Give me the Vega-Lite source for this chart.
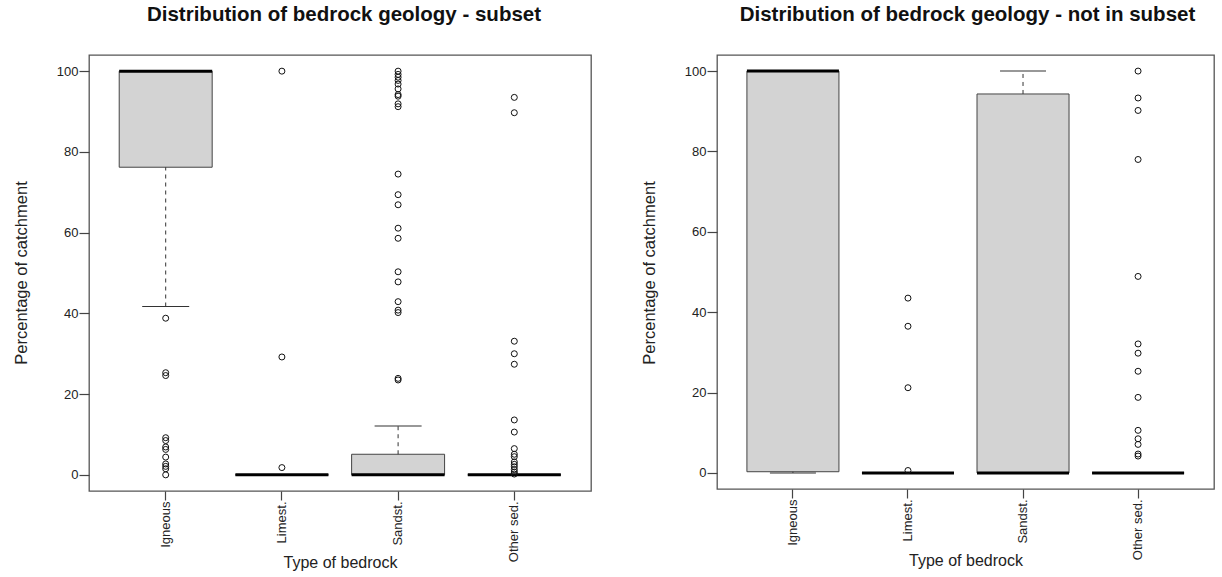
{
  "$schema": "https://vega.github.io/schema/vega-lite/v6.json",
  "padding": {"left": 12, "top": 3, "right": 0, "bottom": 0},
  "background": "white",
  "bounds": "flush",
  "spacing": 126,
  "datasets": {
    "summary": [
      {"panel": "subset", "type": "Igneous", "lo": 41.7, "q1": 76.2, "med": 100, "q3": 100, "hi": 100},
      {"panel": "subset", "type": "Limest.", "lo": 0, "q1": 0, "med": 0, "q3": 0, "hi": 0},
      {"panel": "subset", "type": "Sandst.", "lo": 0, "q1": 0, "med": 0, "q3": 5.1, "hi": 12.1},
      {"panel": "subset", "type": "Other sed.", "lo": 0, "q1": 0, "med": 0, "q3": 0, "hi": 0},
      {"panel": "not", "type": "Igneous", "lo": 0, "q1": 0.3, "med": 100, "q3": 100, "hi": 100},
      {"panel": "not", "type": "Limest.", "lo": 0, "q1": 0, "med": 0, "q3": 0, "hi": 0},
      {"panel": "not", "type": "Sandst.", "lo": 0, "q1": 0, "med": 0, "q3": 94.3, "hi": 100},
      {"panel": "not", "type": "Other sed.", "lo": 0, "q1": 0, "med": 0, "q3": 0, "hi": 0}
    ],
    "outliers": [
      {"panel": "subset", "type": "Igneous", "value": 38.8},
      {"panel": "subset", "type": "Igneous", "value": 25.3},
      {"panel": "subset", "type": "Igneous", "value": 24.6},
      {"panel": "subset", "type": "Igneous", "value": 9.2},
      {"panel": "subset", "type": "Igneous", "value": 8.5},
      {"panel": "subset", "type": "Igneous", "value": 6.9},
      {"panel": "subset", "type": "Igneous", "value": 6.3},
      {"panel": "subset", "type": "Igneous", "value": 4.4},
      {"panel": "subset", "type": "Igneous", "value": 2.7},
      {"panel": "subset", "type": "Igneous", "value": 2.1},
      {"panel": "subset", "type": "Igneous", "value": 1.5},
      {"panel": "subset", "type": "Igneous", "value": 0.0},
      {"panel": "subset", "type": "Limest.", "value": 100},
      {"panel": "subset", "type": "Limest.", "value": 29.2},
      {"panel": "subset", "type": "Limest.", "value": 1.8},
      {"panel": "subset", "type": "Sandst.", "value": 100},
      {"panel": "subset", "type": "Sandst.", "value": 99.2},
      {"panel": "subset", "type": "Sandst.", "value": 98.5},
      {"panel": "subset", "type": "Sandst.", "value": 97.7},
      {"panel": "subset", "type": "Sandst.", "value": 96.8},
      {"panel": "subset", "type": "Sandst.", "value": 95.6},
      {"panel": "subset", "type": "Sandst.", "value": 94.2},
      {"panel": "subset", "type": "Sandst.", "value": 93.8},
      {"panel": "subset", "type": "Sandst.", "value": 91.9},
      {"panel": "subset", "type": "Sandst.", "value": 91.2},
      {"panel": "subset", "type": "Sandst.", "value": 74.5},
      {"panel": "subset", "type": "Sandst.", "value": 69.4},
      {"panel": "subset", "type": "Sandst.", "value": 66.9},
      {"panel": "subset", "type": "Sandst.", "value": 61.1},
      {"panel": "subset", "type": "Sandst.", "value": 58.6},
      {"panel": "subset", "type": "Sandst.", "value": 50.3},
      {"panel": "subset", "type": "Sandst.", "value": 47.8},
      {"panel": "subset", "type": "Sandst.", "value": 42.9},
      {"panel": "subset", "type": "Sandst.", "value": 40.8},
      {"panel": "subset", "type": "Sandst.", "value": 40.2},
      {"panel": "subset", "type": "Sandst.", "value": 23.9},
      {"panel": "subset", "type": "Sandst.", "value": 23.5},
      {"panel": "subset", "type": "Other sed.", "value": 93.5},
      {"panel": "subset", "type": "Other sed.", "value": 89.7},
      {"panel": "subset", "type": "Other sed.", "value": 33.1},
      {"panel": "subset", "type": "Other sed.", "value": 30.0},
      {"panel": "subset", "type": "Other sed.", "value": 27.4},
      {"panel": "subset", "type": "Other sed.", "value": 13.6},
      {"panel": "subset", "type": "Other sed.", "value": 10.6},
      {"panel": "subset", "type": "Other sed.", "value": 6.5},
      {"panel": "subset", "type": "Other sed.", "value": 5.1},
      {"panel": "subset", "type": "Other sed.", "value": 4.5},
      {"panel": "subset", "type": "Other sed.", "value": 3.2},
      {"panel": "subset", "type": "Other sed.", "value": 2.6},
      {"panel": "subset", "type": "Other sed.", "value": 2.0},
      {"panel": "subset", "type": "Other sed.", "value": 1.3},
      {"panel": "subset", "type": "Other sed.", "value": 0.7},
      {"panel": "subset", "type": "Other sed.", "value": 0.2},
      {"panel": "not", "type": "Limest.", "value": 43.5},
      {"panel": "not", "type": "Limest.", "value": 36.5},
      {"panel": "not", "type": "Limest.", "value": 21.2},
      {"panel": "not", "type": "Limest.", "value": 0.6},
      {"panel": "not", "type": "Other sed.", "value": 100},
      {"panel": "not", "type": "Other sed.", "value": 93.3},
      {"panel": "not", "type": "Other sed.", "value": 90.2},
      {"panel": "not", "type": "Other sed.", "value": 78.0},
      {"panel": "not", "type": "Other sed.", "value": 48.9},
      {"panel": "not", "type": "Other sed.", "value": 32.1},
      {"panel": "not", "type": "Other sed.", "value": 29.8},
      {"panel": "not", "type": "Other sed.", "value": 25.3},
      {"panel": "not", "type": "Other sed.", "value": 18.8},
      {"panel": "not", "type": "Other sed.", "value": 10.6},
      {"panel": "not", "type": "Other sed.", "value": 8.5},
      {"panel": "not", "type": "Other sed.", "value": 7.1},
      {"panel": "not", "type": "Other sed.", "value": 4.7},
      {"panel": "not", "type": "Other sed.", "value": 4.2}
    ]
  },
  "hconcat": [
    {
      "width": 502,
      "height": 436,
      "title": {"text": "Distribution of bedrock geology - subset", "dx": 4},
      "encoding": {
        "x": {"field": "type", "type": "nominal", "sort": ["Igneous", "Limest.", "Sandst.", "Other sed."], "title": "Type of bedrock",
              "scale": {"type": "band", "paddingInner": 0.2, "paddingOuter": 0.26}}
      },
      "layer": [
        {"data": {"name": "summary"}, "transform": [{"filter": "datum.panel === 'subset'"}],
         "mark": {"type": "bar", "fill": "#D3D3D3", "stroke": "#444", "strokeWidth": 1},
         "encoding": {"y": {"field": "q1", "type": "quantitative", "title": "Percentage of catchment", "scale": {"domain": [-4, 104], "nice": false, "zero": false}, "axis": {"values": [0, 20, 40, 60, 80, 100]}}, "y2": {"field": "q3"}}},
        {"data": {"name": "summary"}, "transform": [{"filter": "datum.panel === 'subset'"}],
         "mark": {"type": "rule", "stroke": "#333", "strokeWidth": 1, "strokeDash": [4, 4]},
         "encoding": {"y": {"field": "q3", "type": "quantitative", "title": "Percentage of catchment"}, "y2": {"field": "hi"}}},
        {"data": {"name": "summary"}, "transform": [{"filter": "datum.panel === 'subset'"}],
         "mark": {"type": "rule", "stroke": "#333", "strokeWidth": 1, "strokeDash": [4, 4]},
         "encoding": {"y": {"field": "lo", "type": "quantitative", "title": "Percentage of catchment"}, "y2": {"field": "q1"}}},
        {"data": {"name": "summary"}, "transform": [{"filter": "datum.panel === 'subset'"}],
         "mark": {"type": "tick", "color": "#333", "size": 47, "thickness": 1, "opacity": 1},
         "encoding": {"y": {"field": "hi", "type": "quantitative", "title": "Percentage of catchment"}}},
        {"data": {"name": "summary"}, "transform": [{"filter": "datum.panel === 'subset'"}],
         "mark": {"type": "tick", "color": "#333", "size": 47, "thickness": 1, "opacity": 1},
         "encoding": {"y": {"field": "lo", "type": "quantitative", "title": "Percentage of catchment"}}},
        {"data": {"name": "summary"}, "transform": [{"filter": "datum.panel === 'subset'"}],
         "mark": {"type": "tick", "color": "#000", "size": 93, "thickness": 3, "opacity": 1},
         "encoding": {"y": {"field": "med", "type": "quantitative", "title": "Percentage of catchment"}}},
        {"data": {"name": "outliers"}, "transform": [{"filter": "datum.panel === 'subset'"}],
         "mark": {"type": "point", "shape": "circle", "filled": false, "stroke": "#111", "strokeWidth": 1, "size": 36, "opacity": 1},
         "encoding": {"y": {"field": "value", "type": "quantitative", "title": "Percentage of catchment"}}}
      ]
    },
    {
      "width": 497,
      "height": 434,
      "title": {"text": "Distribution of bedrock geology - not in subset", "dx": 2},
      "encoding": {
        "x": {"field": "type", "type": "nominal", "sort": ["Igneous", "Limest.", "Sandst.", "Other sed."], "title": "Type of bedrock",
              "scale": {"type": "band", "paddingInner": 0.2, "paddingOuter": 0.26}}
      },
      "layer": [
        {"data": {"name": "summary"}, "transform": [{"filter": "datum.panel === 'not'"}],
         "mark": {"type": "bar", "fill": "#D3D3D3", "stroke": "#444", "strokeWidth": 1},
         "encoding": {"y": {"field": "q1", "type": "quantitative", "title": "Percentage of catchment", "scale": {"domain": [-4, 104], "nice": false, "zero": false}, "axis": {"values": [0, 20, 40, 60, 80, 100]}}, "y2": {"field": "q3"}}},
        {"data": {"name": "summary"}, "transform": [{"filter": "datum.panel === 'not'"}],
         "mark": {"type": "rule", "stroke": "#333", "strokeWidth": 1, "strokeDash": [4, 4]},
         "encoding": {"y": {"field": "q3", "type": "quantitative", "title": "Percentage of catchment"}, "y2": {"field": "hi"}}},
        {"data": {"name": "summary"}, "transform": [{"filter": "datum.panel === 'not'"}],
         "mark": {"type": "rule", "stroke": "#333", "strokeWidth": 1, "strokeDash": [4, 4]},
         "encoding": {"y": {"field": "lo", "type": "quantitative", "title": "Percentage of catchment"}, "y2": {"field": "q1"}}},
        {"data": {"name": "summary"}, "transform": [{"filter": "datum.panel === 'not'"}],
         "mark": {"type": "tick", "color": "#333", "size": 46, "thickness": 1, "opacity": 1},
         "encoding": {"y": {"field": "hi", "type": "quantitative", "title": "Percentage of catchment"}}},
        {"data": {"name": "summary"}, "transform": [{"filter": "datum.panel === 'not'"}],
         "mark": {"type": "tick", "color": "#333", "size": 46, "thickness": 1, "opacity": 1},
         "encoding": {"y": {"field": "lo", "type": "quantitative", "title": "Percentage of catchment"}}},
        {"data": {"name": "summary"}, "transform": [{"filter": "datum.panel === 'not'"}],
         "mark": {"type": "tick", "color": "#000", "size": 92, "thickness": 3, "opacity": 1},
         "encoding": {"y": {"field": "med", "type": "quantitative", "title": "Percentage of catchment"}}},
        {"data": {"name": "outliers"}, "transform": [{"filter": "datum.panel === 'not'"}],
         "mark": {"type": "point", "shape": "circle", "filled": false, "stroke": "#111", "strokeWidth": 1, "size": 36, "opacity": 1},
         "encoding": {"y": {"field": "value", "type": "quantitative", "title": "Percentage of catchment"}}}
      ]
    }
  ],
  "config": {
    "font": "Liberation Sans",
    "view": {"stroke": "#555", "strokeWidth": 1.3},
    "title": {"font": "Liberation Sans", "fontSize": 20.5, "fontWeight": "bold", "color": "#111", "baseline": "alphabetic", "offset": 30, "anchor": "middle"},
    "axis": {"grid": false, "domain": false, "ticks": true, "tickColor": "#444", "tickWidth": 1.2,
             "labelColor": "#222", "titleColor": "#222", "labelFont": "Liberation Sans", "titleFont": "Liberation Sans",
             "labelFontSize": 13, "titleFontWeight": "normal"},
    "axisY": {"tickSize": 10, "labelPadding": 1, "titleFontSize": 16.5, "titleX": -63, "titleY": 217.5, "titleBaseline": "alphabetic", "titleAlign": "center", "titleAngle": 270},
    "axisX": {"tickSize": 9, "labelPadding": 1, "labelAngle": -90, "titleFontSize": 16, "titleY": 76.5, "titleBaseline": "alphabetic"}
  }
}
